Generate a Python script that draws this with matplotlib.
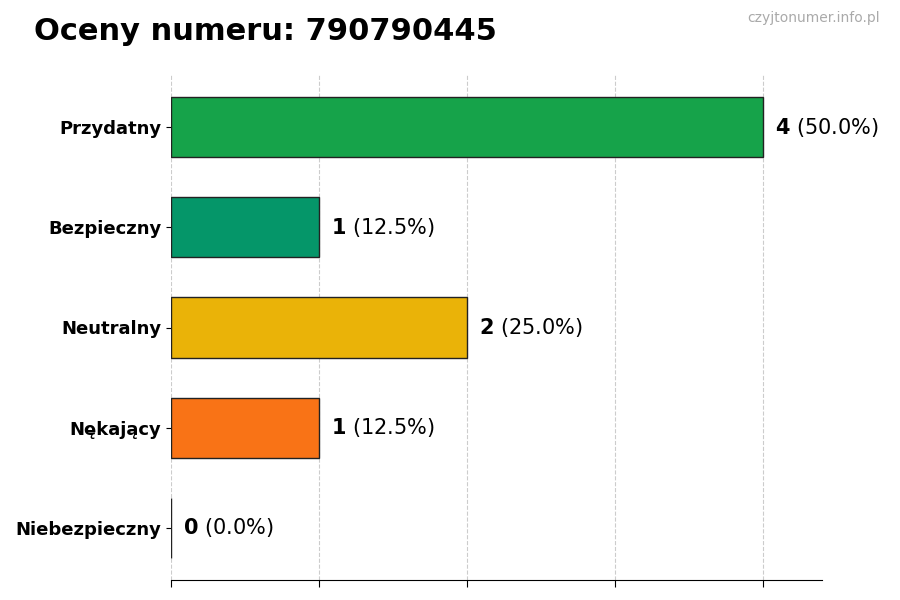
import matplotlib
matplotlib.use("Agg")
import matplotlib.pyplot as plt

categories = ["Przydatny", "Bezpieczny", "Neutralny", "Nękający", "Niebezpieczny"]
counts = [4, 1, 2, 1, 0]
percents = [50.0, 12.5, 25.0, 12.5, 0.0]
colors = ["#16A34A", "#059669", "#EAB308", "#F97316", "#DC2626"]

fig = plt.figure(figsize=(9, 6), dpi=100)
ax = fig.add_axes([171 / 900, 20 / 600, (822 - 171) / 900, (580 - 75) / 600])

y = list(range(len(categories)))
ax.barh(y, counts, height=0.6, color=colors, edgecolor="#222222", linewidth=1.0, zorder=3)
for yi, c, p in zip(y, counts, percents):
    ax.text(c + 0.08, yi, rf"$\bf{{{c}}}$ ({p:.1f}%)", va="center", ha="left", fontsize=15)

ax.set_xlim(0, 4.4)
ax.set_ylim(4.52, -0.52)
ax.set_yticks(y)
ax.set_yticklabels(categories, fontsize=13, fontweight="bold")
ax.set_xticks([0, 1, 2, 3, 4])
ax.set_xticklabels([])
ax.tick_params(axis="x", length=5)
ax.grid(axis="x", ls="--", color="#cccccc", lw=0.8, zorder=0)
for s in ("top", "right", "left"):
    ax.spines[s].set_visible(False)

fig.text(34 / 900, 1 - 31 / 600, "Oceny numeru: 790790445", fontsize=22, fontweight="bold", va="center")
fig.text(880 / 900, 1 - 18 / 600, "czyjtonumer.info.pl", fontsize=10, color="#aaaaaa", ha="right", va="center")

fig.savefig("out.png", dpi=100)
